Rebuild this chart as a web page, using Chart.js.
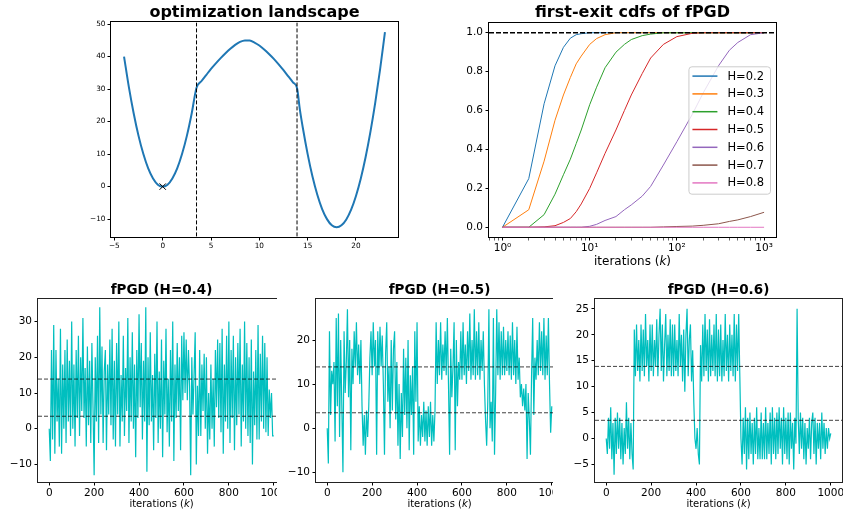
<!DOCTYPE html>
<html>
<head>
<meta charset="utf-8">
<script src="https://cdn.jsdelivr.net/npm/chart.js@4.4.0/dist/chart.umd.min.js"></script>
<style>
html, body { margin: 0; padding: 0; background: #fff; }
body { width: 843px; height: 512px; position: relative; overflow: hidden; }
.panel { position: absolute; overflow: hidden; }
.panel canvas { position: absolute; left: 0; top: 0; }
</style>
</head>
<body>
<div class="panel" style="left:70px;top:0;width:340px;height:250px"><canvas id="landscape" width="340" height="250"></canvas></div>
<div class="panel" style="left:430px;top:0;width:413px;height:275px"><canvas id="cdfs" width="413" height="275"></canvas></div>
<div class="panel" style="left:0;top:275px;width:277px;height:237px"><canvas id="trace04" width="300" height="237"></canvas></div>
<div class="panel" style="left:280px;top:275px;width:273px;height:237px"><canvas id="trace05" width="300" height="237"></canvas></div>
<div class="panel" style="left:560px;top:275px;width:283px;height:237px"><canvas id="trace06" width="283" height="237"></canvas></div>
<script>
// ---- data ----
// landscape f(x)
var landX = [-4, -3.5, -3, -2.5, -2, -1.5, -1, -0.5, 0, 0.5, 1, 1.5, 2, 2.5, 3, 3.5,
  4, 4.5, 5, 5.5, 6, 6.5, 7, 7.5, 8, 8.5, 9, 9.5, 10, 10.5, 11, 11.5, 12, 12.5, 13, 13.5, 13.9,
  14.2, 14.5, 15, 15.5, 16, 16.5, 17, 17.5, 18, 18.5, 19, 19.5, 20, 20.5, 21, 21.5, 22, 22.5, 23];
var landY = [40, 30.6, 22.5, 15.6, 10, 5.6, 2.5, 0.6, 0, 0.6, 2.5, 5.6, 10, 15.6, 22.5, 30.4,
  32.4, 34.3, 36.2, 37.9, 39.5, 41, 42.4, 43.6, 44.5, 44.95, 44.9, 44.3, 43.4, 42.2, 40.8, 39.3, 37.6, 35.8, 33.9, 32, 30.3,
  23.6, 18.1, 10, 3.1, -2.5, -6.9, -10, -11.9, -12.5, -11.9, -10.1, -7.1, -2.9, 2.5, 9.1, 16.9, 25.9, 36.1, 47.5];
var startX = [0];
var startY = [0];
var exitBounds = [3.5, 13.9];   // basin boundaries (dashed lines)

// first-exit cdfs
var kGrid = [1, 2, 3, 4, 5, 6, 7, 8, 10, 12, 15, 20, 25, 30, 40, 50, 70, 100, 150, 200, 300, 400, 500, 700, 1000];
var hLabels = ['H=0.2', 'H=0.3', 'H=0.4', 'H=0.5', 'H=0.6', 'H=0.7', 'H=0.8'];
var hColors = ['#1f77b4', '#ff7f0e', '#2ca02c', '#d62728', '#9467bd', '#8c564b', '#e377c2'];
var cdfH02 = [0, .25, .635, .83, .925, .972, .99, .995, 1, 1, 1, 1, 1, 1, 1, 1, 1, 1, 1, 1, 1, 1, 1, 1, 1];
var cdfH03 = [0, .09, .34, .55, .68, .77, .84, .88, .94, .97, .99, 1, 1, 1, 1, 1, 1, 1, 1, 1, 1, 1, 1, 1, 1];
var cdfH04 = [0, 0, .065, .17, .27, .35, .43, .5, .63, .72, .82, .9, .94, .965, .985, .993, 1, 1, 1, 1, 1, 1, 1, 1, 1];
var cdfH05 = [0, 0, .002, .008, .025, .045, .08, .12, .2, .28, .38, .5, .6, .68, .79, .87, .94, .98, .997, 1, 1, 1, 1, 1, 1];
var cdfH06 = [0, 0, 0, 0, 0, 0, 0, 0, .005, .015, .035, .055, .09, .115, .16, .21, .32, .44, .58, .69, .83, .91, .95, .99, 1];
var cdfH07 = [0, 0, 0, 0, 0, 0, 0, 0, 0, 0, 0, 0, 0, 0, 0, 0, .002, .004, .006, .01, .018, .03, .038, .055, .077];
var cdfH08 = [0, 0, 0, 0, 0, 0, 0, 0, 0, 0, 0, 0, 0, 0, 0, 0, 0, 0, 0, 0, 0, 0, 0, 0, 0];
var logMajor = [1, 10, 100, 1000];
var supDigits = ['\u2070', '\u00b9', '\u00b2', '\u00b3'];

// fPGD traces, one value every 5 iterations
var traceStep = 5;
var traceH04 = [
  0, -9, 22, -3, 29, -7, 22, 2, 14, -5,
  28, -7, 18, 0, 22, -4, 25, 2, 19, -2,
  30, 0, 18, -5, 22, 3, 26, -2, 20, 5,
  31, 3, 17, -5, 23, 1, 19, -4, 24, 6,
  -13, 20, 2, 26, -4, 34, 4, 23, -4, 16,
  22, -6, 18, 4, 25, 1, 28, -3, 19, -5,
  24, 4, 30, -5, 15, 2, 26, -2, 17, 5,
  31, -4, 20, 2, 27, 0, 18, -8, 22, 3,
  32, 6, 24, -3, 19, 2, 34, -12, 20, 1,
  27, 2, 15, -6, 21, 3, 30, -4, 16, 0,
  25, -8, 19, 4, 28, -1, 14, -5, 22, 2,
  30, -9, 18, 3, 24, 5, 20, -6, 26, 8,
  27, 10, 25, 8, 22, 12, -13, 20, 4, 15,
  27, -10, 12, -2, 22, -2, 18, 5, 21, 0,
  20, -7, 10, -3, 18, 0, 14, -5, 22, 6,
  25, 3, 24, -1, 28, -7, 18, 2, 26, 0,
  30, -4, 22, 3, 26, -6, 20, 1, 24, 4,
  28, -5, 18, 2, 30, 0, 24, -2, 20, -4,
  25, -10, 16, 1, 22, -3, 29, -3, 21, 2,
  26, 0, 24, -1, 20, -2, 11, 3, 10, -2,
  -2];
var traceH05 = [
  0, -8, 22, 3, 13, 10, 15, -3, 25, 5,
  26, -2, 20, 5, -10, 22, 8, 15, 27, 7,
  20, -5, 18, 10, 22, 14, 24, 12, 19, 10,
  20, 5, -4, 3, -6, 4, -2, 5, 16, 22,
  12, 24, 14, 20, -6, 22, 12, 23, 14, 21,
  10, -6, 17, 24, 6, 14, 0, 20, 4, 18,
  22, 2, 15, -4, 10, -7, 8, -2, 18, 3,
  16, 0, 20, -5, 12, 3, 14, -6, 22, 6,
  24, -3, 5, -4, 3, -2, 6, -3, 4, -4,
  5, -2, 6, -4, 3, -3, 4, 24, 10, 20,
  12, 24, 11, 19, 13, 22, 12, 25, 10, -6,
  18, 7, 14, 24, -5, 20, 5, 15, 11, 22,
  11, 24, 12, 19, 10, 22, 13, 26, 11, 20,
  12, 27, 11, 22, 12, 24, 11, 20, 13, 22,
  10, 2, -4, 6, 27, 0, 6, -3, 25, -6,
  8, 27, 12, 24, 11, 22, 12, 23, 12, 20,
  13, 22, 12, 21, 11, 24, 12, 20, 10, 23,
  11, 16, 7, 10, 5, 9, 4, 10, -7, 8,
  2, -6, 12, 25, 3, 16, 11, 20, 12, 24,
  13, 22, 12, 25, 11, 21, 12, 25, 10, -1,
  5];
var traceH06 = [
  0, -3, 4, -2, 6, -4, 3, -7, 4, -3,
  5, -2, 4, -4, 3, -5, 2, -3, 7, -2,
  4, -4, 3, -3, -6, 21, 12, 22, 13, 19,
  11, 22, 13, 21, 12, 24, 14, 19, 11, 22,
  13, 22, 12, 19, 14, 23, 12, 20, 25, 13,
  22, 11, 18, 24, 12, 20, 13, 23, 12, 22,
  12, 22, 13, 19, 12, 24, 14, 20, 11, 21,
  9, 20, 25, 12, 19, 22, 11, 17, 7, 0,
  -2, 2, -3, -5, 18, 11, 22, 12, 24, 13,
  21, 11, 23, 12, 20, 13, 22, 12, 24, 11,
  21, 12, 22, 11, 19, 12, 24, 13, 20, 11,
  22, 13, 20, 12, 24, 11, 22, 13, 24, 12,
  0, -5, 4, -3, 6, -6, 4, -4, 5, -3,
  3, -5, 4, -3, 6, -4, 2, -4, 5, -4,
  3, -4, 6, -4, 3, -3, 5, -5, 6, -3,
  4, -4, 5, -3, 6, -2, 4, -5, 6, -3,
  4, -4, 5, -5, 5, -2, 3, -6, 4, -1,
  25, 4, -3, 5, -2, 4, -4, 3, -5, 2,
  -2, 4, -4, 3, 5, -3, 4, -5, 3, -2,
  3, -4, 5, -2, 3, -3, 2, -2, 2, 0,
  1];

var FONT = 'DejaVu Sans';
Chart.defaults.font.family = FONT;
Chart.defaults.color = '#000';

// ---- small plugins ----
var framePlugin = {
  id: 'frame',
  afterDraw: function (chart, args, o) {
    var a = chart.chartArea, ctx = chart.ctx;
    ctx.save();
    ctx.strokeStyle = o.color;
    ctx.lineWidth = 1;
    ctx.strokeRect(Math.round(a.left) - 0.5, Math.round(a.top) - 0.5,
      Math.round(a.right) - Math.round(a.left) + 1, Math.round(a.bottom) - Math.round(a.top) + 1);
    ctx.restore();
  }
};

var refLines = {
  id: 'refLines',
  afterDatasetsDraw: function (chart, args, o) {
    var ctx = chart.ctx, a = chart.chartArea, s = chart.scales;
    ctx.save();
    ctx.beginPath();
    ctx.rect(a.left, a.top, a.right - a.left, a.bottom - a.top);
    ctx.clip();
    ctx.strokeStyle = o.color;
    ctx.lineWidth = o.width;
    ctx.setLineDash([o.dashOn, o.dashOff]);
    (o.h || []).forEach(function (v) {
      var y = s.y.getPixelForValue(v);
      ctx.beginPath(); ctx.moveTo(a.left, y); ctx.lineTo(a.right, y); ctx.stroke();
    });
    (o.v || []).forEach(function (v) {
      var x = s.x.getPixelForValue(v);
      ctx.beginPath(); ctx.moveTo(x, a.top); ctx.lineTo(x, a.bottom); ctx.stroke();
    });
    ctx.restore();
  }
};

// x-axis label with an italic k
var axisLabel = {
  id: 'axisLabel',
  afterDraw: function (chart, args, o) {
    var ctx = chart.ctx, a = chart.chartArea;
    var parts = [[o.pre, ''], [o.it, 'italic '], [o.post, '']];
    ctx.save();
    ctx.fillStyle = '#000';
    ctx.textBaseline = 'middle';
    ctx.textAlign = 'left';
    var total = 0;
    var widths = parts.map(function (p) {
      ctx.font = p[1] + o.size + 'px "' + FONT + '"';
      var w = ctx.measureText(p[0]).width;
      total += w;
      return w;
    });
    var x = (a.left + a.right) / 2 - total / 2;
    parts.forEach(function (p, i) {
      ctx.font = p[1] + o.size + 'px "' + FONT + '"';
      ctx.fillText(p[0], x, o.y);
      x += widths[i];
    });
    ctx.restore();
  }
};

// framed legend at centre right of the plot
var boxLegend = {
  id: 'boxLegend',
  afterDraw: function (chart, args, o) {
    var ctx = chart.ctx, a = chart.chartArea;
    var items = chart.data.datasets.filter(function (d) { return d.label; });
    ctx.save();
    ctx.font = o.size + 'px "' + FONT + '"';
    var tw = 0;
    items.forEach(function (d) { tw = Math.max(tw, ctx.measureText(d.label).width); });
    var w = 39 + tw + 6;
    var h = (items.length - 1) * o.rowH + 20.6;
    var x0 = a.right - 6 - w, y0 = (a.top + a.bottom) / 2 - h / 2;
    ctx.beginPath();
    ctx.roundRect(x0 + 0.5, y0 + 0.5, w, h, 3);
    ctx.fillStyle = 'rgba(255,255,255,0.8)';
    ctx.fill();
    ctx.strokeStyle = '#cccccc';
    ctx.lineWidth = 1;
    ctx.stroke();
    ctx.textBaseline = 'middle';
    ctx.textAlign = 'left';
    items.forEach(function (d, i) {
      var y = y0 + 9.8 + i * o.rowH;
      ctx.strokeStyle = d.borderColor;
      ctx.lineWidth = 1.5;
      ctx.beginPath(); ctx.moveTo(x0 + 4, y); ctx.lineTo(x0 + 29, y); ctx.stroke();
      ctx.fillStyle = '#000';
      ctx.fillText(d.label, x0 + 39, y + 0.5);
    });
    ctx.restore();
  }
};

// ---- helpers ----
function minusSign(v) { return String(v).replace('-', '\u2212'); }
function fitY(w) { return function (s) { s.width = w; s.paddingTop = 0; s.paddingBottom = 0; s.paddingLeft = 0; s.paddingRight = 0; }; }
function fitX(h) { return function (s) { s.height = h; s.paddingTop = 0; s.paddingBottom = 0; s.paddingLeft = 0; s.paddingRight = 0; }; }

function scaleOpts(o) {
  return {
    type: o.type || 'linear',
    min: o.min,
    max: o.max,
    grid: { display: true, drawOnChartArea: false, drawTicks: true, tickLength: 3.5, tickColor: '#000', tickWidth: o.tickWidth || 1 },
    border: { display: false },
    ticks: { color: '#000', font: { family: FONT, size: o.size }, padding: o.pad, autoSkip: false, maxRotation: 0,
      stepSize: o.step, includeBounds: false, callback: o.cb },
    afterBuildTicks: o.build,
    afterFit: o.fit
  };
}

function titleOpts(text, size, top, bottom) {
  return { display: true, text: text, fullSize: false, color: '#000',
    font: { family: FONT, size: size, weight: 'bold', lineHeight: 1.2 },
    padding: { top: top, bottom: bottom } };
}

function xy(xs, ys) { return xs.map(function (x, i) { return { x: x, y: ys[i] }; }); }
function series(vals) { return vals.map(function (v, i) { return { x: i * traceStep, y: v }; }); }

// ---- optimization landscape ----
new Chart(document.getElementById('landscape'), {
  type: 'line',
  data: {
    datasets: [
      { data: xy(startX, startY), showLine: false, pointStyle: 'crossRot', pointRadius: 4.5,
        borderColor: '#000', borderWidth: 1, order: 0 },
      { data: xy(landX, landY), borderColor: '#1f77b4', borderWidth: 2, pointRadius: 0,
        cubicInterpolationMode: 'monotone', fill: false, order: 1 }
    ]
  },
  options: {
    responsive: false, animation: false,
    layout: { padding: { left: 0, right: 12, top: 0, bottom: 0 } },
    plugins: {
      legend: { display: false }, tooltip: { enabled: false },
      title: titleOpts('optimization landscape', 16, 2.8, 0.4),
      frame: { color: '#000' },
      refLines: { v: exitBounds, color: '#000', width: 1, dashOn: 4, dashOff: 2 }
    },
    scales: {
      x: scaleOpts({ min: -5.35, max: 24.35, step: 5, size: 7.3, pad: 1, cb: minusSign, fit: fitX(13) }),
      y: scaleOpts({ min: -15.5, max: 50.5, step: 10, size: 7.3, pad: 2, cb: minusSign, fit: fitY(41) })
    }
  },
  plugins: [refLines, framePlugin]
});

// ---- first-exit cdfs ----
var cdfSets = [cdfH02, cdfH03, cdfH04, cdfH05, cdfH06, cdfH07, cdfH08];
new Chart(document.getElementById('cdfs'), {
  type: 'line',
  data: {
    datasets: cdfSets.map(function (vals, i) {
      return { label: hLabels[i], data: xy(kGrid, vals), borderColor: hColors[i], borderWidth: 1,
        pointRadius: 0, tension: 0, fill: false, order: 10 - i };
    })
  },
  options: {
    responsive: false, animation: false,
    layout: { padding: { left: 0, right: 67, top: 0, bottom: 0 } },
    plugins: {
      legend: { display: false }, tooltip: { enabled: false },
      title: titleOpts('first-exit cdfs of fPGD', 16, 3, 0.8),
      frame: { color: '#000' },
      refLines: { h: [1], color: '#000', width: 1.5, dashOn: 5, dashOff: 2 },
      axisLabel: { pre: 'iterations (', it: 'k', post: ')', size: 12, y: 262 },
      boxLegend: { size: 11.5, rowH: 17.8 }
    },
    scales: {
      x: scaleOpts({ type: 'logarithmic', min: 0.73, max: 1370, size: 10.5, pad: 1.5,
        tickWidth: function (c) { return c.tick && logMajor.indexOf(c.tick.value) >= 0 ? 1 : 0.6; },
        build: function (s) {
          var t = [];
          for (var e = -1; e <= 3; e++) {
            for (var m = 1; m <= 9; m++) {
              var v = +(m * Math.pow(10, e)).toPrecision(3);
              if (v >= s.min && v <= s.max) t.push({ value: v });
            }
          }
          s.ticks = t;
        },
        cb: function (v) {
          var i = logMajor.indexOf(v);
          return i >= 0 ? '10' + supDigits[i] : '';
        },
        fit: fitX(38) }),
      y: scaleOpts({ min: -0.05, max: 1.05, step: 0.2, size: 10.5, pad: 2.5,
        cb: function (v) { return v.toFixed(1); }, fit: fitY(59) })
    }
  },
  plugins: [refLines, framePlugin, axisLabel, boxLegend]
});

// ---- fPGD traces ----
function tracePanel(id, vals, title, yMin, yMax, yStep, yw, rp) {
  new Chart(document.getElementById(id), {
    type: 'line',
    data: {
      datasets: [{ data: series(vals), borderColor: '#00bfbf', borderWidth: 1.2, pointRadius: 0, tension: 0, fill: false }]
    },
    options: {
      responsive: false, animation: false,
      layout: { padding: { left: 0, right: rp, top: 0, bottom: 0 } },
      plugins: {
        legend: { display: false }, tooltip: { enabled: false },
        title: titleOpts(title, 13.5, 7.8, 0),
        frame: { color: '#222' },
        refLines: { h: exitBounds, color: 'rgba(0,0,0,0.75)', width: 1, dashOn: 4, dashOff: 2 },
        axisLabel: { pre: 'iterations (', it: 'k', post: ')', size: 10, y: 229 }
      },
      scales: {
        x: scaleOpts({ min: -50, max: 1050, step: 200, size: 10.5, pad: 1, cb: minusSign, fit: fitX(30) }),
        y: scaleOpts({ min: yMin, max: yMax, step: yStep, size: 10.5, pad: 2.5, cb: minusSign, fit: fitY(yw) })
      }
    },
    plugins: [refLines, framePlugin, axisLabel]
  });
}

tracePanel('trace04', traceH04, 'fPGD (H=0.4)', -14.9, 36.3, 10, 38, 15);
tracePanel('trace05', traceH05, 'fPGD (H=0.5)', -12.2, 29.3, 10, 36, 17);
tracePanel('trace06', traceH06, 'fPGD (H=0.6)', -8.4, 26.9, 5, 35, 1);
</script>
</body>
</html>
